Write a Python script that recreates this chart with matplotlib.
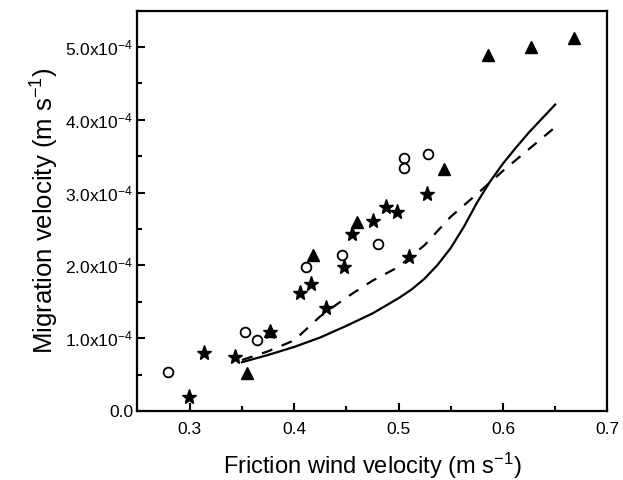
import matplotlib
matplotlib.use("Agg")
import matplotlib.pyplot as plt
from matplotlib.ticker import MultipleLocator, FixedLocator

plt.rcParams['font.family'] = ['Liberation Sans', 'DejaVu Sans']
plt.rcParams['mathtext.fontset'] = 'custom'
plt.rcParams['mathtext.rm'] = 'Liberation Sans'
plt.rcParams['mathtext.it'] = 'Liberation Sans:italic'
plt.rcParams['mathtext.bf'] = 'Liberation Sans:bold'

SCALE = 1e-4

# Open circles
circle_x = [0.279, 0.353, 0.3645, 0.411, 0.4457, 0.4807, 0.505, 0.505, 0.5286]
circle_y = [0.54, 1.09, 0.98, 1.98, 2.15, 2.29, 3.47, 3.34, 3.53]

# Filled stars
star_x = [0.2994, 0.3134, 0.343, 0.377, 0.4059, 0.4164, 0.4307, 0.4482,
          0.4556, 0.4754, 0.4881, 0.4986, 0.5098, 0.5273]
star_y = [0.19, 0.80, 0.74, 1.09, 1.62, 1.74, 1.42, 1.98,
          2.43, 2.61, 2.80, 2.73, 2.11, 2.98]

# Filled triangles
tri_x = [0.355, 0.377, 0.4183, 0.460, 0.5433, 0.5854, 0.6268, 0.6682]
tri_y = [0.52, 1.10, 2.14, 2.60, 3.33, 4.89, 5.00, 5.13]

# Solid model curve
solid_x = [0.35, 0.375, 0.40, 0.425, 0.45, 0.475, 0.50, 0.5125, 0.525, 0.5375,
           0.55, 0.5625, 0.575, 0.5875, 0.60, 0.6125, 0.625, 0.6375, 0.65]
solid_y = [0.67, 0.77, 0.88, 1.01, 1.17, 1.34, 1.55, 1.67, 1.82, 2.01,
           2.24, 2.53, 2.86, 3.15, 3.40, 3.62, 3.83, 4.02, 4.21]

# Dashed model curve
dash_x = [0.35, 0.375, 0.40, 0.425, 0.45, 0.475, 0.50, 0.525, 0.55, 0.575, 0.60, 0.625, 0.65]
dash_y = [0.70, 0.82, 0.97, 1.30, 1.56, 1.79, 1.98, 2.28, 2.67, 2.98, 3.30, 3.60, 3.90]

ytick_vals = [0, 1, 2, 3, 4, 5]
ytick_labels = ['0.0', r'1.0x10$^{-4}$', r'2.0x10$^{-4}$', r'3.0x10$^{-4}$',
                r'4.0x10$^{-4}$', r'5.0x10$^{-4}$']
xtick_vals = [0.3, 0.4, 0.5, 0.6, 0.7]
xtick_labels = ['0.3', '0.4', '0.5', '0.6', '0.7']

fig = plt.figure(figsize=(6.23, 4.80), dpi=100)
ax = fig.add_axes([0.2207, 0.14375, 0.7543, 0.834])

sc = lambda v: [a * SCALE for a in v]

ax.plot(solid_x, sc(solid_y), color='black', lw=1.6, solid_joinstyle='round')
ax.plot(dash_x, sc(dash_y), color='black', lw=1.6, dashes=(5, 4.5))
ax.plot(circle_x, sc(circle_y), linestyle='none', marker='o', markersize=7,
        markerfacecolor='white', markeredgecolor='black', markeredgewidth=1.3)
ax.plot(star_x, sc(star_y), linestyle='none', marker='*', markersize=11,
        color='black')
ax.plot(tri_x, sc(tri_y), linestyle='none', marker='^', markersize=9,
        color='black')

ax.set_xlim(0.25, 0.7)
ax.set_ylim(0, 5.5 * SCALE)

ax.xaxis.set_major_locator(FixedLocator(xtick_vals))
ax.set_xticklabels(xtick_labels)
ax.xaxis.set_minor_locator(MultipleLocator(0.05))
ax.yaxis.set_major_locator(FixedLocator([v * SCALE for v in ytick_vals]))
ax.set_yticklabels(ytick_labels)
ax.yaxis.set_minor_locator(MultipleLocator(0.5 * SCALE))

ax.tick_params(which='both', direction='in', top=False, right=False, width=1.5)
ax.tick_params(which='major', length=6, labelsize=12.5)
ax.tick_params(axis='x', which='major', pad=8)
ax.tick_params(axis='y', which='major', pad=3)
ax.tick_params(which='minor', length=3.5)

for s in ax.spines.values():
    s.set_linewidth(1.6)

ax.set_xlabel(r'Friction wind velocity (m s$^{-1}$)', fontsize=17, labelpad=10)
ax.set_ylabel(r'Migration velocity (m s$^{-1}$)', fontsize=18.5, labelpad=3)

fig.savefig('out.png', dpi=100)
